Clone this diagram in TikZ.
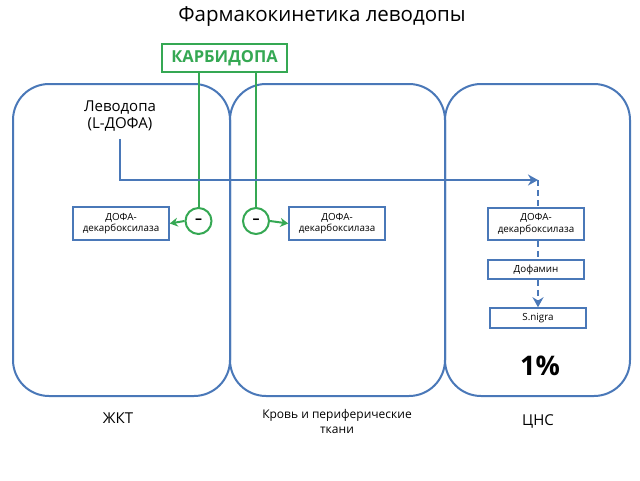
\documentclass[tikz,border=0pt]{standalone}
\usepackage{fontspec}
\setmainfont{Open Sans}
\usetikzlibrary{arrows.meta}
\definecolor{pblue}{HTML}{4A78B8}
\definecolor{pgreen}{HTML}{35A853}
\tikzset{
  panel/.style={draw=pblue, line width=2pt, rounded corners=36pt},
  ebox/.style={draw=pblue, line width=1.5pt, fill=white, minimum width=96pt, inner sep=0pt, align=center, font=\fontsize{9.8}{11.5}\selectfont},
  gline/.style={draw=pgreen, line width=2pt},
  bline/.style={draw=pblue, line width=2.2pt},
  inh/.style={circle, draw=pgreen, line width=2pt, minimum size=26pt, inner sep=0pt, font=\fontsize{14}{14}\selectfont\bfseries},
  lbl/.style={font=\fontsize{15}{17}\selectfont, align=center},
}
\begin{document}
\begin{tikzpicture}[x=1pt,y=-1pt]
\useasboundingbox (0,0) rectangle (640,480);
% panels
\draw[panel] (13,84) rectangle (230,396);
\draw[panel] (230,84) rectangle (445,396);
\draw[panel] (445,84) rectangle (630,396);
% title
\node[font=\fontsize{20.5}{23}\selectfont] (title) at (322,17) {Фармакокинетика леводопы};
% carbidopa
\node[draw=pgreen, line width=2pt, fill=white, minimum width=125pt, minimum height=28pt, inner sep=0pt, text=pgreen, font=\fontsize{16.5}{18}\selectfont\bfseries] (carb) at (224.5,58) {КАРБИДОПА};
% levodopa
\node[lbl] (lev) at (120,116) {Леводопа\\(L-ДОФА)};
% enzyme boxes
\node[ebox, minimum height=33pt] (dL) at (121,223.5) {ДОФА-\\декарбоксилаза};
\node[ebox, minimum height=33pt] (dM) at (337,223.5) {ДОФА-\\декарбоксилаза};
\node[ebox, minimum height=32pt] (dR) at (536,224) {ДОФА-\\декарбоксилаза};
\node[ebox, minimum height=19pt] (dop) at (536,269.5) {Дофамин};
\node[ebox, minimum height=20pt] (sn) at (538,318) {S.nigra};
% inhibition circles
\node[inh] (cL) at (198.5,221) {–};
\node[inh] (cR) at (256,221) {–};
\draw[gline] (carb.south -| cL) -- (cL.north);
\draw[gline] (carb.south -| cR) -- (cR.north);
\draw[gline, -{Stealth[length=8pt,width=9pt]}] (cL.west) -- (dL.east);
\draw[gline, -{Stealth[length=8pt,width=9pt]}] (cR.east) -- (dM.west);
% blue path
\coordinate (bend) at (120,180);
\coordinate (tip) at (538,180);
\draw[bline, -{Stealth[length=10pt,width=11pt]}] (lev.south) ++(0,4) -- (bend) -- (tip);
\draw[bline, dash pattern=on 6pt off 4pt] (tip) -- (tip |- dR.north);
\draw[bline, dash pattern=on 6pt off 4pt] (dR.south -| tip) -- (dop.north -| tip);
\draw[bline, dash pattern=on 6pt off 4pt, -{Stealth[length=10pt,width=11pt]}] (dop.south -| tip) -- (sn.north -| tip);
% 1%
\node[font=\fontsize{27}{30}\selectfont\bfseries] (pct) at (540,366) {1\%};
% bottom labels
\node[lbl] (zkt) at (118,418) {ЖКТ};
\node[font=\fontsize{12}{15}\selectfont, align=center] (blood) at (337,421) {Кровь и периферические\\ткани};
\node[lbl] (cns) at (538,421) {ЦНС};
\end{tikzpicture}
\end{document}
